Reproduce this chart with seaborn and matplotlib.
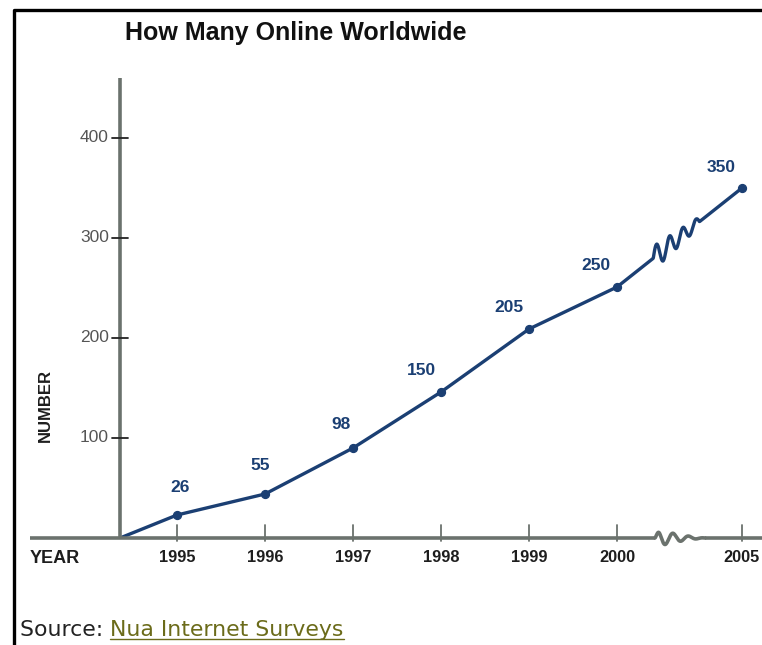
import numpy as np
import pandas as pd
import matplotlib
matplotlib.use("Agg")
import matplotlib.pyplot as plt
import seaborn as sns

# data (millions online)
years = [1995, 1996, 1997, 1998, 1999, 2000, 2005]
online_labels = ["26", "55", "98", "150", "205", "250", "350"]
plotted_level = [23, 44, 90, 146, 209, 251, 350]
y_ticks = [100, 200, 300, 400]

NAVY = "#1b3f73"
AXIS = "#6b726d"


def year_pos(y):
    # broken axis: 2000 -> 2005 is squeezed
    return min(y, 2000) - 1995 + 0.284 * (max(y, 2000) - 2000)


sns.set_theme(style="white")
plt.rcParams["font.family"] = ["Liberation Sans", "DejaVu Sans"]

fig = plt.figure(figsize=(7.62, 6.45), dpi=100)
W, H = 762, 645
ax = fig.add_axes([30 / W, (H - 538) / H, (W - 30) / W, 460 / H])
px_x = 88.0   # pixels per x unit
px_y = 1.0    # pixels per y unit
x0 = -0.648   # y-axis position
ax.set_xlim(x0 - 90 / px_x, x0 + (W - 120) / px_x)
ax.set_ylim(0, 460)
ax.axis("off")

pos = [year_pos(y) for y in years]
df = pd.DataFrame({"x": [x0] + pos[:-1], "y": [0] + plotted_level[:-1]})
sns.lineplot(data=df, x="x", y="y", ax=ax, color=NAVY, lw=2.4, sort=False)

# last segment with the squiggle
xa, ya, xb, yb = pos[-2], plotted_level[-2], pos[-1], plotted_level[-1]
t = np.linspace(0, 1, 400)
sx = xa + (xb - xa) * t
sy = ya + (yb - ya) * t
s = (t - 0.29) / 0.37
m = (s > 0) & (s < 1)
sy = sy + np.where(m, 12 * (1 - 0.6 * s) * np.sin(2 * np.pi * 3.5 * s), 0) / px_y
ax.plot(sx, sy, color=NAVY, lw=2.4, solid_capstyle="round")

ax.scatter(pos, plotted_level, s=32, color=NAVY, zorder=5)

offsets = [(3, 20), (-5, 21), (-12, 16), (-20, 14), (-20, 14), (-21, 14), (-21, 13)]
for xp, yp, lab, (dx, dy) in zip(pos, plotted_level, online_labels, offsets):
    ax.text(xp + dx / px_x, yp + dy / px_y, lab, color=NAVY, fontsize=12.5,
            fontweight="bold", ha="center", va="bottom")

# y axis
ax.plot([x0, x0], [0, 460], color=AXIS, lw=2.6, solid_capstyle="butt", clip_on=False)
for v in y_ticks:
    ax.plot([x0 - 8 / px_x, x0 + 8 / px_x], [v, v], color="#222222", lw=1.3)
    ax.text(x0 - 11 / px_x, v, str(v), ha="right", va="center",
            fontsize=12.5, color="#555555")

# x axis with break
xs_left = ax.get_xlim()[0]
brk_a = (655 - 177) / px_x
brk_b = (705 - 177) / px_x
ax.plot([xs_left, brk_a], [0, 0], color=AXIS, lw=2.6, solid_capstyle="butt", clip_on=False)
ax.plot([brk_b, ax.get_xlim()[1]], [0, 0], color=AXIS, lw=2.6,
        solid_capstyle="butt", clip_on=False)
u = np.linspace(0, 1, 200)
wx = brk_a + (brk_b - brk_a) * u
wy = 9 * np.sin(2 * np.pi * 3.2 * u + 0.6) * np.exp(-1.4 * u) * (1 - u ** 2) * np.sin(np.pi * np.minimum(u * 4, 0.5))
ax.plot(wx, wy / px_y, color=AXIS, lw=2.6, clip_on=False)

for xp, y in zip(pos, years):
    ax.plot([xp, xp], [-3, 13], color=AXIS, lw=1.3, clip_on=False)
    ax.text(xp, -12, str(y), ha="center", va="top", fontsize=11.8,
            fontweight="bold", color="#1e1e1e")

ax.text(x0 - 90 / px_x, -12, "YEAR", ha="left", va="top", fontsize=13,
        fontweight="bold", color="#1e1e1e")
ax.text(x0 - 75 / px_x, 133, "NUMBER", rotation=90, ha="center", va="center",
        fontsize=12, fontweight="bold", color="#1e1e1e")

fig.text(125 / W, 1 - 33 / H, "How Many Online Worldwide", ha="left", va="center",
         fontsize=18, fontweight="bold", color="#111111")

src_font = ["DejaVu Sans"]
src = fig.text(20 / W, 1 - 630 / H, "Source: ", ha="left", va="center",
               fontsize=15.8, color="#222222", family=src_font)
fig.canvas.draw()
bb = src.get_window_extent()
link = fig.text(bb.x1 / W, 1 - 630 / H, "Nua Internet Surveys", ha="left", va="center",
                fontsize=15.8, color="#6b6b1a", family=src_font)
lb = link.get_window_extent(fig.canvas.get_renderer())
fig.add_artist(plt.Line2D([lb.x0 / W, lb.x1 / W], [(lb.y0 + 1) / H] * 2,
                          color="#6b6b1a", lw=1))

# frame on left and top
fig.add_artist(plt.Line2D([14 / W, 14 / W, 1], [0, 1 - 10 / H, 1 - 10 / H],
                          color="black", lw=2.4))

fig.savefig("out.png", dpi=100)
